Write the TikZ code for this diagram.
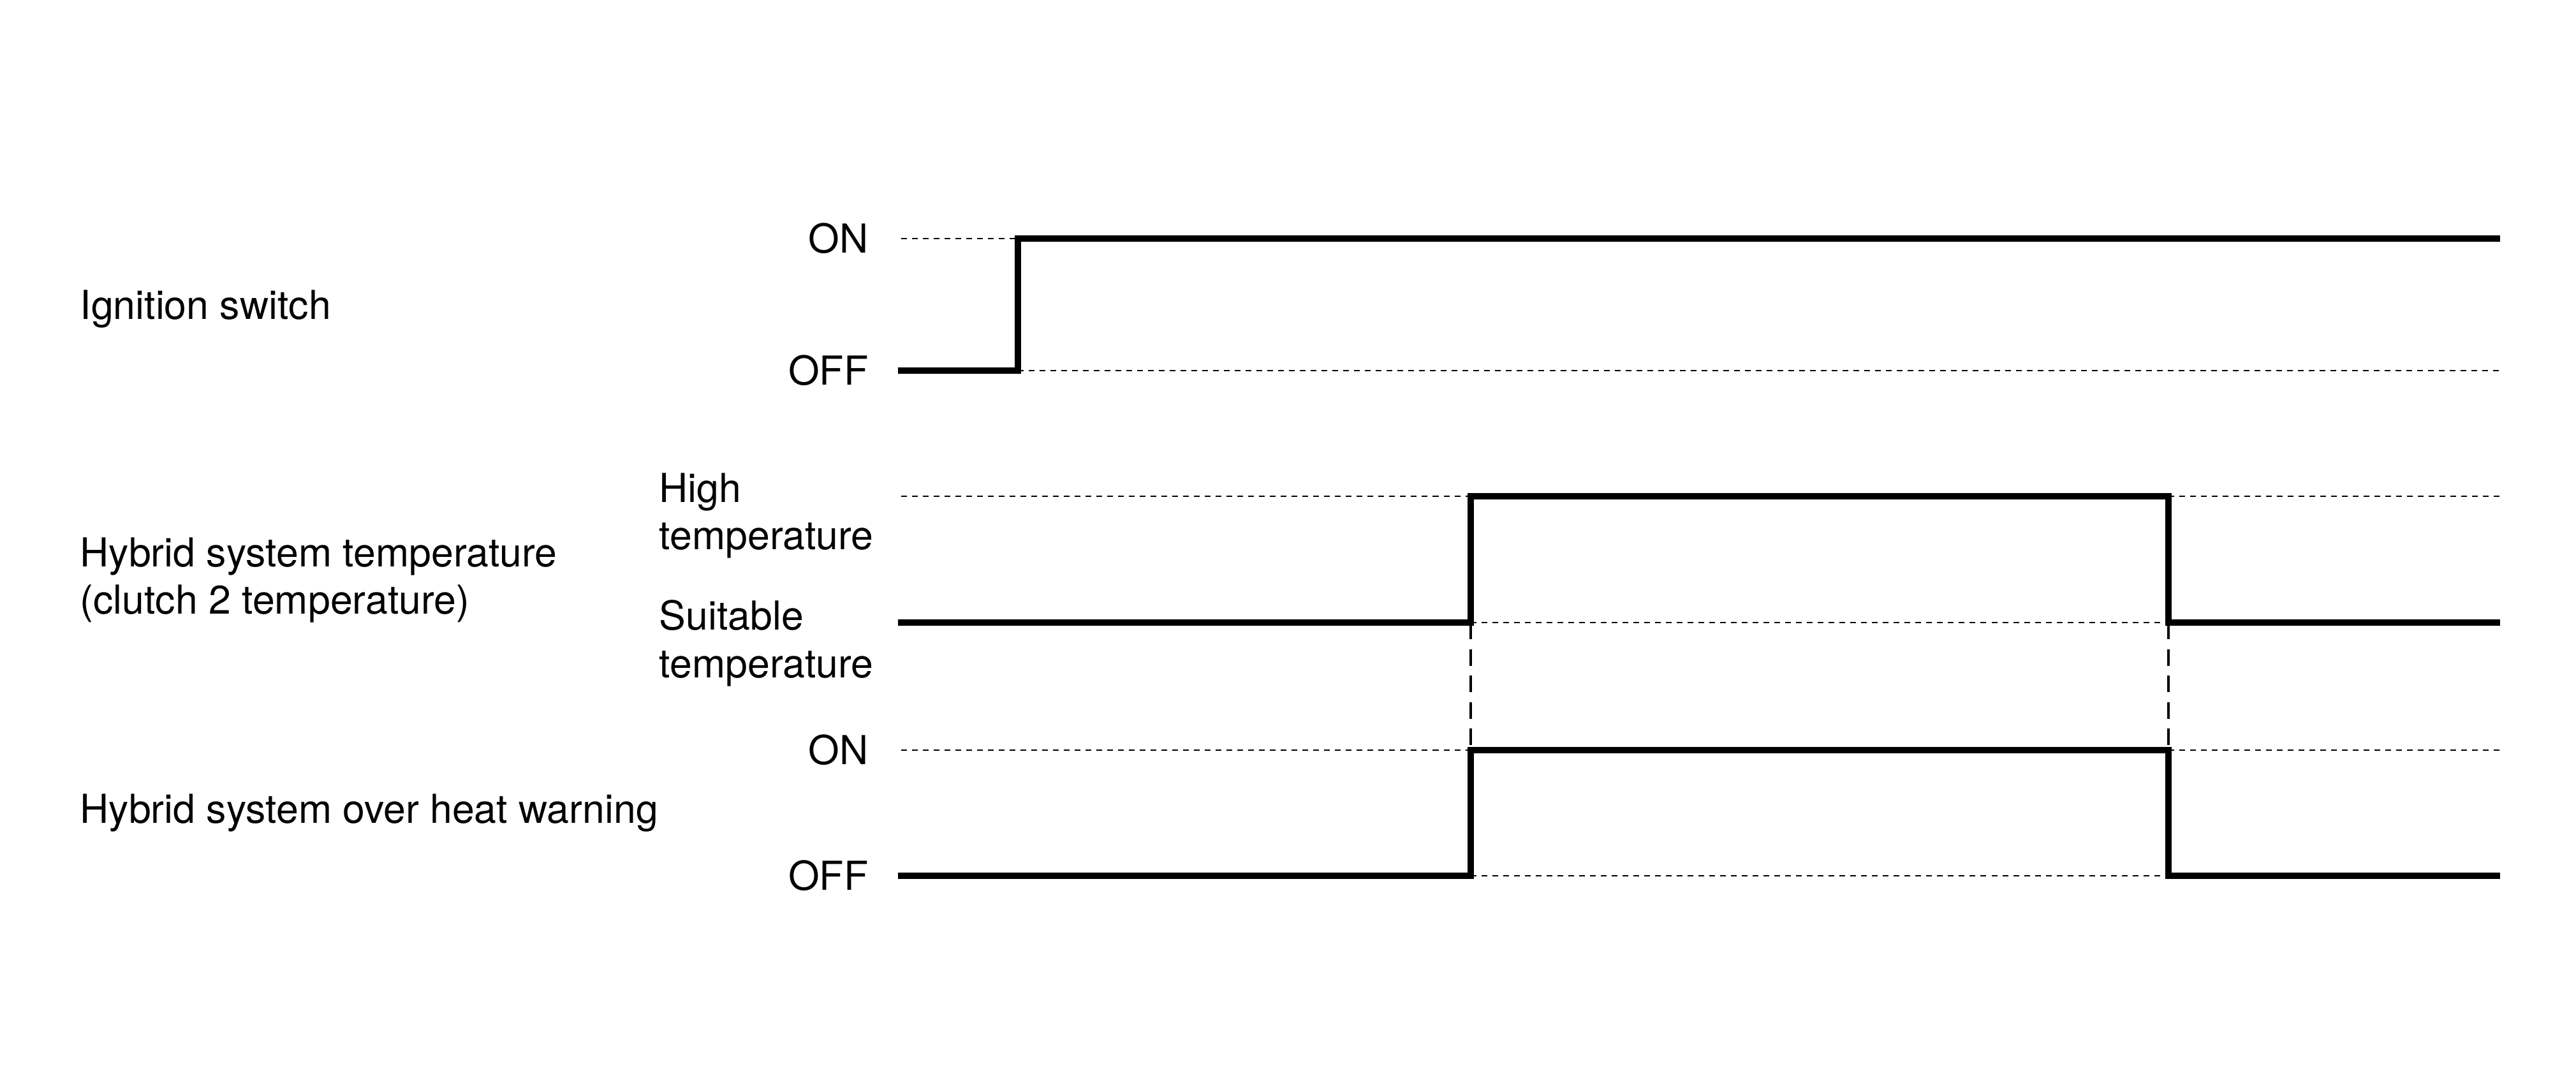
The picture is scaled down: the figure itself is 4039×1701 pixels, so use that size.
\documentclass[tikz,border=0pt]{standalone}
\usepackage{fontspec}
\setmainfont{TeX Gyre Heros}
\usetikzlibrary{positioning, calc}

\tikzset{
  sigline/.style={line width=2.85pt},
  levelguide/.style={line width=0.55pt, dash pattern=on 0.09cm off 0.08cm},
  eventguide/.style={line width=0.95pt, dash pattern=on 0.26cm off 0.155cm},
  rowlabel/.style={anchor=base west, inner sep=0pt, align=left},
  levellabel/.style={anchor=east, inner sep=0pt},
}

\begin{document}
\begin{tikzpicture}[x=0.01cm, y=-0.01cm, font=\fontsize{17.8}{21.2}\selectfont]
\useasboundingbox (0,0) rectangle (4039,1701);

% time marks and levels
\coordinate (t0) at (1408,0);
\coordinate (g0) at (1413,0);
\coordinate (tIG) at (1596,0);
\coordinate (tUp) at (2306,0);
\coordinate (tDn) at (3400,0);
\coordinate (tE) at (3920,0);
\coordinate (gE) at (3924,0);

\coordinate (IGon) at (0,374);
\coordinate (IGoff) at (0,581);
\coordinate (TPhigh) at (0,778);
\coordinate (TPok) at (0,976);
\coordinate (WNon) at (0,1176);
\coordinate (WNoff) at (0,1373);

% row labels (base = last line)
\node (IGlabel) [rowlabel] at (125,501) {Ignition switch};
\node (TPlabel) [rowlabel] at (125,963) {Hybrid system temperature\\(clutch 2 temperature)};
\node (WNlabel) [rowlabel] at (125,1290) {Hybrid system over heat warning};

% level labels
\node (IGonL) [levellabel] at (1362,374) {ON};
\node (IGoffL) [levellabel] at (1362,581) {OFF};
\node (TPhighL) [rowlabel] at (1033,862) {High\\temperature};
\node (TPokL) [rowlabel] at (1033,1062) {Suitable\\temperature};
\node (WNonL) [levellabel] at (1362,1176) {ON};
\node (WNoffL) [levellabel] at (1362,1373) {OFF};

% guide lines
\draw[levelguide] (g0 |- IGon) -- (tIG |- IGon);
\draw[levelguide] (tIG |- IGoff) -- (gE |- IGoff);
\draw[levelguide] (g0 |- TPhigh) -- (tUp |- TPhigh);
\draw[levelguide] (tDn |- TPhigh) -- (gE |- TPhigh);
\draw[levelguide] (tUp |- TPok) -- (tDn |- TPok);
\draw[levelguide] (g0 |- WNon) -- (tUp |- WNon);
\draw[levelguide] (tDn |- WNon) -- (gE |- WNon);
\draw[levelguide] (tUp |- WNoff) -- (tDn |- WNoff);

\draw[eventguide] (tUp |- TPok) -- (tUp |- WNon);
\draw[eventguide] (tDn |- TPok) -- (tDn |- WNon);

% signals
\draw[sigline] (t0 |- IGoff) -- (tIG |- IGoff) -- (tIG |- IGon) -- (tE |- IGon);
\draw[sigline] (t0 |- TPok) -- (tUp |- TPok) -- (tUp |- TPhigh)
  -- (tDn |- TPhigh) -- (tDn |- TPok) -- (tE |- TPok);
\draw[sigline] (t0 |- WNoff) -- (tUp |- WNoff) -- (tUp |- WNon)
  -- (tDn |- WNon) -- (tDn |- WNoff) -- (tE |- WNoff);
\end{tikzpicture}
\end{document}
